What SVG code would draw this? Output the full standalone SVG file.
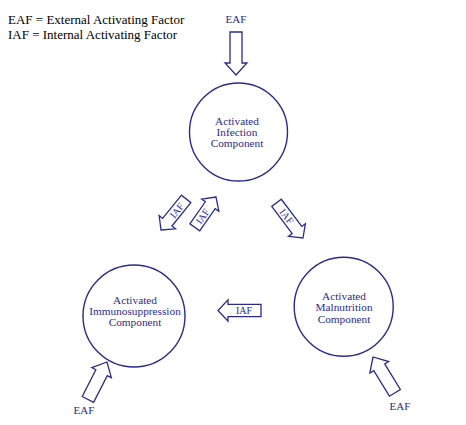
<svg xmlns="http://www.w3.org/2000/svg" width="466" height="425" viewBox="0 0 466 425">
<style>
.c{fill:none;stroke:#2b2b8e;stroke-width:1.4}
.a{fill:#fff;stroke:#2b2b8e;stroke-width:1.3;stroke-linejoin:miter}
.t{font-family:"Liberation Serif","Times New Roman",serif;font-size:11.3px;fill:#2b2b8e;text-anchor:middle}
.i{font-family:"Liberation Serif","Times New Roman",serif;font-size:10px;fill:#2b2b8e;text-anchor:middle}
.l{font-family:"Liberation Serif","Times New Roman",serif;font-size:13px;fill:#000}
</style>
<rect width="466" height="425" fill="#fff"/>
<g id="legend">
<text class="l" x="8" y="24">EAF = External Activating Factor</text>
<text class="l" x="8" y="39">IAF = Internal Activating Factor</text>
</g>
<g id="infection">
<circle class="c" cx="238.5" cy="132" r="49"/>
<text class="t" x="237" y="124.5">Activated</text>
<text class="t" x="237" y="135.5">Infection</text>
<text class="t" x="237" y="146.5">Component</text>
</g>
<g id="immunosuppression">
<circle class="c" cx="134" cy="316" r="51"/>
<text class="t" x="135" y="304">Activated</text>
<text class="t" x="135" y="315">Immunosuppression</text>
<text class="t" x="135" y="326">Component</text>
</g>
<g id="malnutrition">
<circle class="c" cx="343.7" cy="306.7" r="49.5"/>
<text class="t" x="344" y="299.5">Activated</text>
<text class="t" x="344" y="311">Malnutrition</text>
<text class="t" x="344" y="322.5">Component</text>
</g>
<g id="connectors">
<g id="eaf-top">
<text class="i" x="236" y="23" style="font-size:11px">EAF</text>
<polygon class="a" transform="translate(236,75) rotate(90)" points="0,0 -12,-11 -12,-6 -43,-6 -43,6 -12,6 -12,11"/>
</g>
<g id="eaf-left">
<polygon class="a" transform="translate(107,362) rotate(-63)" points="0,0 -12,-11 -12,-6.4 -42,-6.4 -42,6.4 -12,6.4 -12,11"/>
<text class="i" x="84" y="414" style="font-size:11px">EAF</text>
</g>
<g id="eaf-right">
<polygon class="a" transform="translate(373,357) rotate(-121.4)" points="0,0 -12,-11 -12,-6.4 -42,-6.4 -42,6.4 -12,6.4 -12,11"/>
<text class="i" x="400" y="410" style="font-size:11px">EAF</text>
</g>
<g id="iaf-1" transform="translate(161,230) rotate(129)">
<polygon class="a" points="0,0 -10,-10.5 -10,-6 -40,-6 -40,6 -10,6 -10,10.5"/>
<text class="i" x="-25" y="3.5" transform="rotate(180,-25,0)">IAF</text>
</g>
<g id="iaf-2" transform="translate(216,197) rotate(-55)">
<polygon class="a" points="0,0 -10,-10.5 -10,-6 -37,-6 -37,6 -10,6 -10,10.5"/>
<text class="i" x="-23.5" y="3.5">IAF</text>
</g>
<g id="iaf-3" transform="translate(303,238) rotate(53)">
<polygon class="a" points="0,0 -10,-10.5 -10,-6 -44,-6 -44,6 -10,6 -10,10.5"/>
<text class="i" x="-27" y="3.5">IAF</text>
</g>
<g id="iaf-4" transform="translate(218,310.5) rotate(180)">
<polygon class="a" points="0,0 -10,-10.7 -10,-6.2 -43,-6.2 -43,6.2 -10,6.2 -10,10.7"/>
<text class="i" x="-26" y="3.5" transform="rotate(180,-26,0)">IAF</text>
</g>
</g>
</svg>
